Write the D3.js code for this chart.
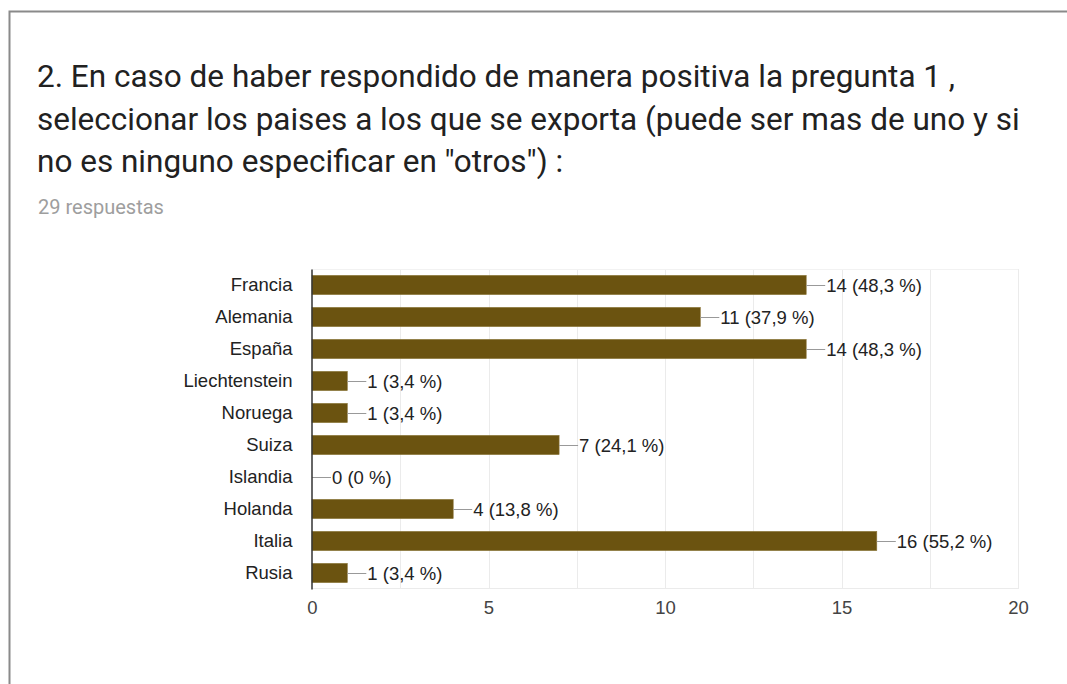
<!DOCTYPE html>
<html>
<head>
<meta charset="utf-8">
<script src="https://cdn.jsdelivr.net/npm/d3@7"></script>
<style>
  html, body { margin: 0; padding: 0; background: #fff; }
</style>
</head>
<body>
<div id="chart"></div>
<script>
// Chart data
var titleLines = [
  '2. En caso de haber respondido de manera positiva la pregunta 1 ,',
  'seleccionar los paises a los que se exporta (puede ser mas de uno y si',
  'no es ninguno especificar en "otros") :'
];
var subtitle = '29 respuestas';
var countries = ['Francia', 'Alemania', 'España', 'Liechtenstein', 'Noruega', 'Suiza', 'Islandia', 'Holanda', 'Italia', 'Rusia'];
var counts = [14, 11, 14, 1, 1, 7, 0, 4, 16, 1];
var percents = ['48,3', '37,9', '48,3', '3,4', '3,4', '24,1', '0', '13,8', '55,2', '3,4'];
var xTicks = [0, 5, 10, 15, 20];
var gridTicks = [2.5, 5, 7.5, 10, 12.5, 15, 17.5, 20];

var attrs = {
  width: 1067,
  height: 684,
  plotLeft: 312,
  plotRight: 1018,
  plotTop: 269,
  plotBottom: 589,
  barColor: '#6b5310',
  textColor: '#222222',
  labelFont: '"Liberation Sans", Arial, sans-serif',
  labelSize: 18.5
};

var data = countries.map((c, i) => ({ name: c, count: counts[i], pct: percents[i] }));

var svg = d3.select('#chart').append('svg')
  .attr('width', attrs.width)
  .attr('height', attrs.height)
  .style('display', 'block');

// card border
svg.append('path')
  .attr('d', 'M9.5,' + attrs.height + 'V11.5H' + attrs.width)
  .attr('fill', 'none')
  .attr('stroke', '#8a8a8a')
  .attr('stroke-width', 2);

// title
var title = svg.append('text')
  .attr('font-family', 'Roboto, sans-serif')
  .attr('font-size', 31.5)
  .attr('fill', '#212121');
titleLines.forEach((line, i) => {
  title.append('tspan')
    .attr('x', 37)
    .attr('y', 87 + i * 42.5)
    .text(line);
});

svg.append('text')
  .attr('x', 38)
  .attr('y', 214)
  .attr('font-family', 'Roboto, sans-serif')
  .attr('font-size', 20)
  .attr('fill', '#9e9e9e')
  .text(subtitle);

// scales
var x = d3.scaleLinear().domain([0, 20]).range([attrs.plotLeft, attrs.plotRight]);
var y = d3.scaleBand().domain(countries)
  .range([attrs.plotTop, attrs.plotBottom])
  .paddingInner(0.4)
  .paddingOuter(0.2);

var chart = svg.append('g')
  .attr('font-family', attrs.labelFont)
  .attr('font-size', attrs.labelSize);

// gridlines
chart.append('g').selectAll('line')
  .data(gridTicks)
  .join('line')
  .attr('x1', d => Math.round(x(d)) + 0.5)
  .attr('x2', d => Math.round(x(d)) + 0.5)
  .attr('y1', attrs.plotTop)
  .attr('y2', attrs.plotBottom)
  .attr('stroke', '#ebebeb');

chart.append('line')
  .attr('x1', attrs.plotLeft).attr('x2', attrs.plotRight)
  .attr('y1', attrs.plotTop + 0.5).attr('y2', attrs.plotTop + 0.5)
  .attr('stroke', '#f2f2f2');
chart.append('line')
  .attr('x1', attrs.plotLeft).attr('x2', attrs.plotRight)
  .attr('y1', attrs.plotBottom - 0.5).attr('y2', attrs.plotBottom - 0.5)
  .attr('stroke', '#ebebeb');

// bars
chart.append('g').selectAll('rect')
  .data(data.filter(d => d.count > 0))
  .join('rect')
  .attr('x', x(0))
  .attr('y', d => y(d.name))
  .attr('width', d => x(d.count) - x(0))
  .attr('height', y.bandwidth())
  .attr('fill', attrs.barColor)
  .attr('stroke', '#8a7438')
  .attr('stroke-width', 0.6);

// value connectors and labels
var labels = chart.append('g').selectAll('g')
  .data(data)
  .join('g')
  .attr('transform', d => 'translate(' + x(d.count) + ',' + (y(d.name) + y.bandwidth() / 2) + ')');

labels.append('line')
  .attr('x1', 0).attr('x2', 19)
  .attr('y1', 0.5).attr('y2', 0.5)
  .attr('stroke', '#999999');

labels.append('text')
  .attr('x', 20)
  .attr('dy', '0.36em')
  .attr('fill', attrs.textColor)
  .text(d => d.count + ' (' + d.pct + ' %)');

// y axis
var yAxis = d3.axisLeft(y).tickSize(0).tickPadding(19);
var yg = chart.append('g')
  .attr('transform', 'translate(' + (attrs.plotLeft - 0.5) + ',0)')
  .call(yAxis);
yg.select('.domain').attr('stroke', '#333333').attr('stroke-width', 1.5);
yg.selectAll('text')
  .attr('font-family', attrs.labelFont)
  .attr('font-size', attrs.labelSize)
  .attr('fill', attrs.textColor);

// x axis
var xAxis = d3.axisBottom(x).tickValues(xTicks).tickSize(0).tickPadding(12);
var xg = chart.append('g')
  .attr('transform', 'translate(0,' + attrs.plotBottom + ')')
  .call(xAxis);
xg.select('.domain').remove();
xg.selectAll('text')
  .attr('font-family', attrs.labelFont)
  .attr('font-size', attrs.labelSize)
  .attr('fill', '#444444');
</script>
</body>
</html>
